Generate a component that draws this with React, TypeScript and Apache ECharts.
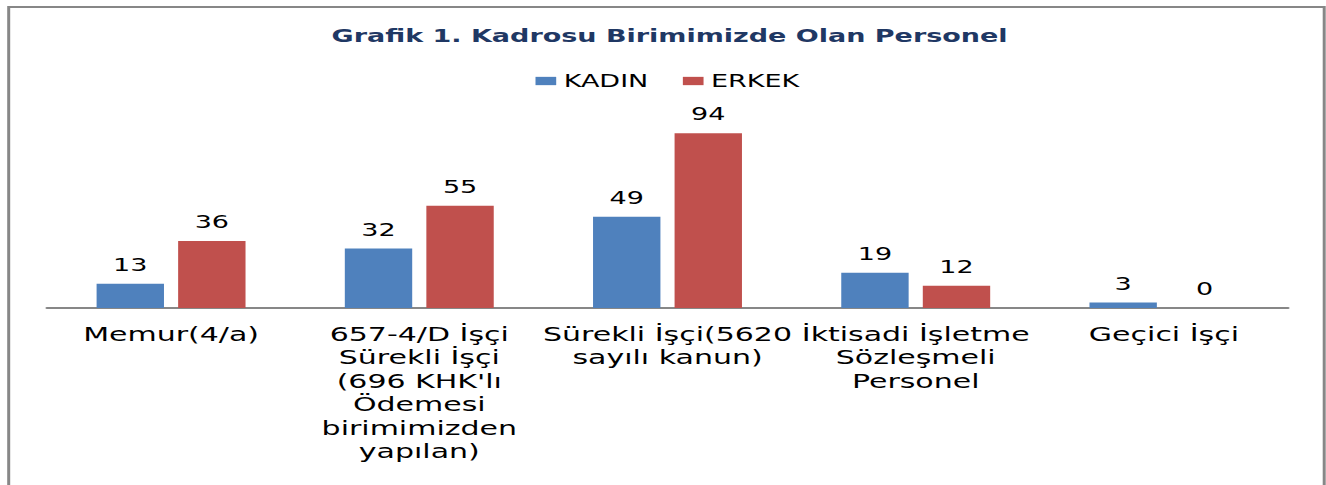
import React, { useEffect, useRef } from "react";
import * as echarts from "echarts";

const categories = [
  "Memur(4/a)",
  "657-4/D İşçi\nSürekli İşçi\n(696 KHK'lı\nÖdemesi\nbirimimizden\nyapılan)",
  "Sürekli İşçi(5620\nsayılı kanun)",
  "İktisadi İşletme\nSözleşmeli\nPersonel",
  "Geçici İşçi",
];
const kadin = [13, 32, 49, 19, 3];
const erkek = [36, 55, 94, 12, 0];
const seriesNames = ["KADIN", "ERKEK"];
const titleText = "Grafik 1. Kadrosu Birimimizde Olan Personel";

const STRETCH = 1.5;
const W = 1326 / STRETCH;
const H = 485;
const FONT = "DejaVu Sans";

export default function App() {
  const ref = useRef<HTMLDivElement>(null);
  useEffect(() => {
    if (!ref.current) return;
    const chart = echarts.init(ref.current, undefined, { renderer: "svg" });
    const labelStyle = {
      show: true,
      position: "top",
      distance: 10,
      color: "#000",
      fontSize: 18,
      fontFamily: FONT,
    };
    chart.setOption({
      animation: false,
      backgroundColor: "#fff",
      title: {
        text: titleText,
        left: 216,
        top: 22,
        textStyle: { fontSize: 18, fontWeight: "bold", color: "#1F3864", fontFamily: FONT },
      },
      legend: {
        data: seriesNames,
        left: 352,
        top: 67,
        icon: "rect",
        itemWidth: 13.8,
        itemHeight: 8.3,
        itemGap: 23,
        textStyle: { fontSize: 18, color: "#000", fontFamily: FONT },
      },
      graphic: [
        {
          type: "rect",
          shape: { x: 5.8, y: 7, width: 877, height: 600 },
          style: { fill: "none", stroke: "#878787", lineWidth: 2 },
          silent: true,
        },
      ],
      grid: { left: 31.3, right: 25.3, top: 122, bottom: 177, containLabel: false },
      xAxis: {
        type: "category",
        data: categories,
        axisLine: { show: true, lineStyle: { color: "#878787", width: 2 } },
        axisTick: { show: false },
        axisLabel: {
          interval: 0,
          margin: 14,
          color: "#000",
          fontSize: 20,
          lineHeight: 23.5,
          fontFamily: FONT,
          align: "center",
        },
      },
      yAxis: {
        type: "value",
        show: false,
        min: 0,
        max: 100,
        splitLine: { show: false },
      },
      series: [
        {
          name: seriesNames[0],
          type: "bar",
          data: kadin,
          barCategoryGap: "40%",
          barGap: "21%",
          itemStyle: { color: "#4F81BD" },
          label: labelStyle,
        },
        {
          name: seriesNames[1],
          type: "bar",
          data: erkek,
          barCategoryGap: "40%",
          barGap: "21%",
          itemStyle: { color: "#C0504D" },
          label: labelStyle,
        },
      ],
    });
    return () => chart.dispose();
  }, []);
  return (
    <div
      style={{
        position: "absolute",
        left: 0,
        top: 0,
        width: 1326,
        height: 485,
        overflow: "hidden",
        background: "#fff",
      }}
    >
      <div
        ref={ref}
        style={{ width: W, height: H, transform: `scaleX(${STRETCH})`, transformOrigin: "0 0" }}
      />
    </div>
  );
}
